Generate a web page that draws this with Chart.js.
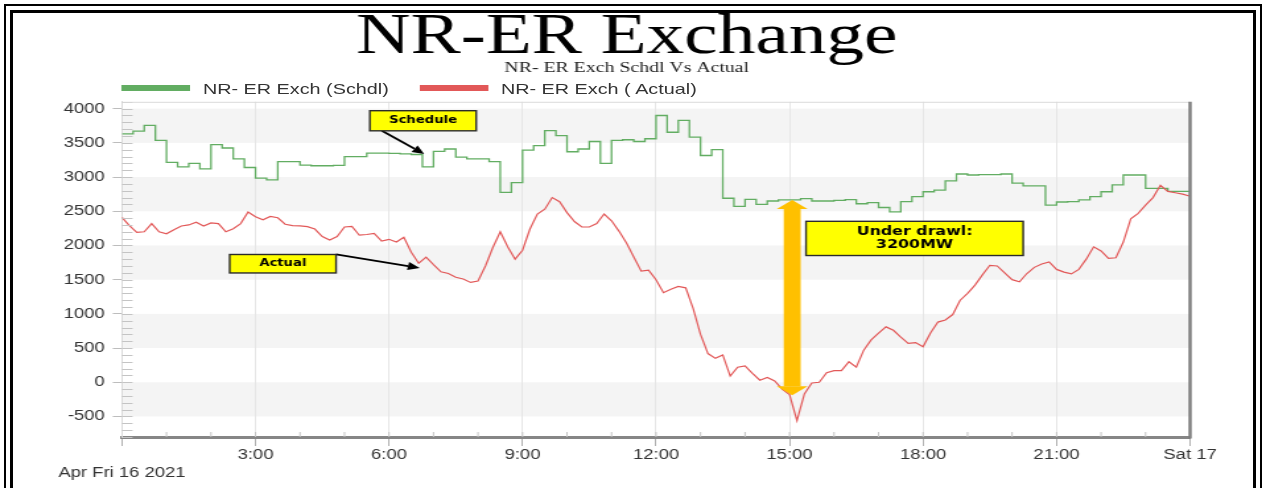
<!DOCTYPE html>
<html>
<head>
<meta charset="utf-8">
<title>NR-ER Exchange</title>
<script src="https://cdn.jsdelivr.net/npm/chart.js@4.4.0/dist/chart.umd.min.js"></script>
<style>
  html, body { margin: 0; padding: 0; background: #fff; }
  body { width: 1266px; height: 488px; overflow: hidden; position: relative; }
  .frame-outer { position: absolute; left: 4px; top: 4px; right: 4px; height: 600px; border: 2px solid #000; }
  .frame-inner { position: absolute; left: 10px; top: 10px; right: 10px; height: 600px; border: 3px solid #000; }
  #stage { position: absolute; left: 0; top: 0; width: 959px; height: 488px; transform: scaleX(1.3201); transform-origin: 0 0; }
  #legend { position: absolute; left: 92.4px; top: 79px; font-family: "Liberation Sans", Arial, sans-serif; font-size: 15px; color: #333; }
</style>
</head>
<body>
<div class="frame-outer"></div>
<div class="frame-inner"></div>
<div id="stage">
  <canvas id="chart" width="959" height="488"></canvas>
  <div id="legend"></div>
</div>
<script>
// 15-minute schedule blocks, 00:00 .. 24:00 (MW)
const SCHEDULE_MW = [
  3630, 3670, 3755, 3535, 3215, 3150, 3200, 3120, 3475, 3425, 3265, 3140,
  2985, 2960, 3225, 3225, 3175, 3165, 3165, 3170, 3300, 3300, 3350, 3350,
  3345, 3340, 3330, 3150, 3375, 3410, 3290, 3265, 3265, 3225, 2775, 2920,
  3395, 3460, 3680, 3605, 3370, 3410, 3520, 3200, 3535, 3545, 3520, 3560,
  3900, 3655, 3830, 3585, 3315, 3400, 2690, 2570, 2675, 2600, 2650, 2665,
  2665, 2685, 2650, 2650, 2660, 2670, 2610, 2625, 2555, 2490, 2640, 2715,
  2785, 2810, 2945, 3045, 3030, 3035, 3035, 3045, 2910, 2870, 2870, 2590,
  2635, 2640, 2665, 2715, 2785, 2885, 3030, 3030, 2835, 2835, 2790, 2790,
  2790
];

// actual drawal, 10-minute samples, 00:00 .. 24:00 (MW)
const ACTUAL_MW = [
  2410, 2290, 2190, 2200, 2320, 2200, 2170, 2230, 2285, 2300, 2340, 2285,
  2330, 2320, 2200, 2245, 2320, 2490, 2420, 2375, 2425, 2405, 2310, 2290,
  2285, 2275, 2240, 2130, 2080, 2130, 2270, 2280, 2150, 2160, 2175, 2065,
  2090, 2050, 2120, 1900, 1740, 1830, 1720, 1615, 1590, 1535, 1510, 1460,
  1480, 1700, 1970, 2200, 1980, 1800, 1930, 2240, 2460, 2530, 2700, 2640,
  2480, 2350, 2270, 2270, 2320, 2460, 2360, 2210, 2040, 1830, 1625, 1640,
  1500, 1310, 1360, 1400, 1380, 1080, 700, 420, 350, 400, 90, 220,
  240, 130, 30, 70, 20, -100, -180, -560, -170, -10, 0, 140,
  170, 170, 300, 220, 470, 620, 720, 810, 760, 660, 570, 580,
  520, 720, 880, 910, 990, 1200, 1300, 1420, 1570, 1710, 1700, 1600,
  1500, 1470, 1590, 1680, 1730, 1760, 1650, 1610, 1585, 1650, 1800, 1980,
  1920, 1810, 1820, 2050, 2390, 2470, 2590, 2700, 2880, 2790, 2770, 2750,
  2720
];

const X_TICK_LABELS = ['', '3:00', '6:00', '9:00', '12:00', '15:00', '18:00', '21:00', 'Sat 17'];
const Y_TICKS = [-500, 0, 500, 1000, 1500, 2000, 2500, 3000, 3500, 4000];
const DATE_LABEL = 'Apr Fri 16 2021';
const SERIES_LABELS = ['NR- ER Exch (Schdl)', 'NR- ER Exch ( Actual)'];
const COLOURS = ['#62ad62', '#e25858'];
const UNDER_DRAWL_MW = 3200;

const TICK_FONT = { family: '"Liberation Sans", Arial, sans-serif', size: 14 };

// callouts placed in data space (hours, MW)
const CALLOUTS = [
  { lines: ['Schedule'], x0: 5.57, y0: 3970, x1: 7.96, y1: 3676, size: 10,
    arrow: [5.84, 3676, 6.79, 3338] },
  { lines: ['Actual'], x0: 2.42, y0: 1868, x1: 4.81, y1: 1598, size: 10,
    arrow: [4.81, 1868, 6.69, 1672] },
  { lines: ['Under drawl:', UNDER_DRAWL_MW + 'MW'], x0: 15.37, y0: 2353, x1: 20.25, y1: 1853, size: 12 },
];
const GAP_ARROW = { x: 15.06, top: 2665, bottom: -191 };

function makeLegend(labels, id) {
  const legendContainer = document.getElementById(id);
  const listContainer = document.createElement('ul');
  listContainer.style.display = 'flex';
  listContainer.style.flexDirection = 'row';
  listContainer.style.margin = 0;
  listContainer.style.padding = 0;
  listContainer.style.listStyle = 'none';
  legendContainer.appendChild(listContainer);

  labels.forEach((label, i) => {
    const li = document.createElement('li');
    li.style.alignItems = 'center';
    li.style.display = 'flex';
    li.style.flexDirection = 'row';
    li.style.height = '18px';
    li.style.marginRight = '23.6px';

    const boxSpan = document.createElement('span');
    boxSpan.style.background = COLOURS[i];
    boxSpan.style.display = 'inline-block';
    boxSpan.style.height = '6px';
    boxSpan.style.width = '51.5px';
    boxSpan.style.marginRight = '9.8px';

    const textContainer = document.createElement('p');
    textContainer.style.margin = 0;
    textContainer.style.padding = 0;
    textContainer.style.whiteSpace = 'pre';
    textContainer.appendChild(document.createTextNode(label));

    li.appendChild(boxSpan);
    li.appendChild(textContainer);
    listContainer.appendChild(li);
  });
}

// grey bands between alternating 500 MW ticks
const bandsPlugin = {
  id: 'bands',
  beforeDraw(chart) {
    const { ctx, chartArea: a, scales: { y } } = chart;
    ctx.save();
    ctx.fillStyle = '#f4f4f4';
    y.ticks.forEach(t => {
      if (t.value % 1000 !== 0) return;
      const top = y.getPixelForValue(t.value);
      const bottom = y.getPixelForValue(t.value - 500);
      ctx.fillRect(a.left, top, a.right - a.left, bottom - top);
    });
    ctx.restore();
  }
};

// minor ticks, top edge and the heavy right edge of the plot
const framePlugin = {
  id: 'frame',
  afterDraw(chart) {
    const { ctx, chartArea: a, scales: { x, y } } = chart;
    ctx.save();
    ctx.lineWidth = 1;
    ctx.strokeStyle = '#c4c4c4';
    for (let v = Math.ceil(y.min / 100) * 100; v <= y.max; v += 100) {
      const py = Math.round(y.getPixelForValue(v)) + 0.5;
      ctx.beginPath();
      ctx.moveTo(a.left, py);
      ctx.lineTo(a.left + 8, py);
      ctx.stroke();
    }
    for (let h = 1; h < 24; h++) {
      const px = x.getPixelForValue(h);
      ctx.beginPath();
      ctx.moveTo(px, a.bottom - 5);
      ctx.lineTo(px, a.bottom);
      ctx.stroke();
    }
    ctx.strokeStyle = '#dadada';
    ctx.beginPath();
    ctx.moveTo(a.left, a.top + 0.5);
    ctx.lineTo(a.right, a.top + 0.5);
    ctx.stroke();
    ctx.strokeStyle = '#7f7f7f';
    ctx.lineWidth = 2.5;
    ctx.beginPath();
    ctx.moveTo(a.right, a.top);
    ctx.lineTo(a.right, a.bottom + 1.5);
    ctx.stroke();
    ctx.restore();
  }
};

function drawArrow(ctx, x0, y0, x1, y1) {
  const ang = Math.atan2(y1 - y0, x1 - x0);
  const len = 9, half = 4;
  const bx = x1 - len * Math.cos(ang), by = y1 - len * Math.sin(ang);
  ctx.beginPath();
  ctx.moveTo(x0, y0);
  ctx.lineTo(bx, by);
  ctx.stroke();
  ctx.beginPath();
  ctx.moveTo(x1, y1);
  ctx.lineTo(bx + half * Math.sin(ang), by - half * Math.cos(ang));
  ctx.lineTo(bx - half * Math.sin(ang), by + half * Math.cos(ang));
  ctx.closePath();
  ctx.fill();
}

const calloutPlugin = {
  id: 'callouts',
  afterDatasetsDraw(chart) {
    const { ctx, scales: { x, y } } = chart;
    ctx.save();

    // double-headed gap arrow
    const cx = x.getPixelForValue(GAP_ARROW.x);
    const top = y.getPixelForValue(GAP_ARROW.top);
    const bottom = y.getPixelForValue(GAP_ARROW.bottom);
    const head = 9, shaft = 6.4, wing = 11.7;
    ctx.fillStyle = '#ffc000';
    ctx.fillRect(cx - shaft, top + head, shaft * 2, bottom - top - head * 2);
    ctx.beginPath();
    ctx.moveTo(cx, top);
    ctx.lineTo(cx + wing, top + head);
    ctx.lineTo(cx - wing, top + head);
    ctx.closePath();
    ctx.fill();
    ctx.beginPath();
    ctx.moveTo(cx, bottom);
    ctx.lineTo(cx + wing, bottom - head);
    ctx.lineTo(cx - wing, bottom - head);
    ctx.closePath();
    ctx.fill();

    CALLOUTS.forEach(c => {
      const l = x.getPixelForValue(c.x0), r = x.getPixelForValue(c.x1);
      const t = y.getPixelForValue(c.y0), b = y.getPixelForValue(c.y1);
      if (c.arrow) {
        ctx.strokeStyle = '#000';
        ctx.fillStyle = '#000';
        ctx.lineWidth = 1.8;
        drawArrow(ctx,
          x.getPixelForValue(c.arrow[0]), y.getPixelForValue(c.arrow[1]),
          x.getPixelForValue(c.arrow[2]), y.getPixelForValue(c.arrow[3]));
      }
      ctx.fillStyle = '#ffff00';
      ctx.fillRect(l, t, r - l, b - t);
      ctx.strokeStyle = '#2b2b2b';
      ctx.lineWidth = 1.4;
      ctx.strokeRect(l, t, r - l, b - t);
      ctx.fillStyle = '#000';
      ctx.font = 'bold ' + c.size + 'px "DejaVu Sans", Verdana, sans-serif';
      ctx.textAlign = 'center';
      ctx.textBaseline = 'middle';
      const lh = c.size * 1.06;
      const mid = (t + b) / 2 - (c.lines.length - 1) * lh / 2;
      c.lines.forEach((line, i) => ctx.fillText(line, (l + r) / 2, mid + i * lh));
    });
    ctx.restore();
  }
};

function createExchangeChart() {
  const ctx = document.getElementById('chart');
  const schedule = SCHEDULE_MW.map((v, i) => ({ x: i * 0.25, y: v }));
  const actual = ACTUAL_MW.map((v, i) => ({ x: i / 6, y: v }));

  new Chart(ctx, {
    type: 'line',
    data: {
      datasets: [
        {
          label: SERIES_LABELS[0],
          data: schedule,
          borderColor: COLOURS[0],
          borderWidth: 1.3,
          stepped: 'before',
          pointRadius: 0,
          order: 1,
        },
        {
          label: SERIES_LABELS[1],
          data: actual,
          borderColor: COLOURS[1],
          borderWidth: 1.2,
          pointRadius: 0,
          tension: 0,
          order: 0,
        },
      ],
    },
    options: {
      responsive: false,
      animation: false,
      devicePixelRatio: 1,
      layout: { padding: { top: 17, left: 48, right: 57.5, bottom: 5.6 } },
      plugins: {
        legend: { display: false },
        tooltip: { enabled: false },
        title: {
          display: true,
          text: 'NR-ER Exchange',
          color: '#000',
          font: { family: '"Liberation Serif", "Times New Roman", serif', size: 57, weight: 'normal', lineHeight: 0.737 },
          padding: { top: 0, bottom: 0 },
        },
        subtitle: {
          display: true,
          text: 'NR- ER Exch Schdl Vs Actual',
          color: '#222',
          font: { family: '"Liberation Serif", "Times New Roman", serif', size: 15, lineHeight: 1.2 },
          padding: { top: 0, bottom: 24.8 },
        },
      },
      scales: {
        x: {
          type: 'linear',
          min: 0,
          max: 24,
          ticks: {
            stepSize: 3,
            autoSkip: false,
            maxRotation: 0,
            padding: 0,
            color: '#333',
            font: Object.assign({ lineHeight: 1.3 }, TICK_FONT),
            callback: (value) => {
              const i = Math.round(value / 3);
              return i === 0 ? [X_TICK_LABELS[0], DATE_LABEL] : X_TICK_LABELS[i];
            },
          },
          grid: {
            color: (c) => (c.tick && c.tick.value > 0 && c.tick.value < 24) ? '#e6e6e6' : 'rgba(0,0,0,0)',
            tickLength: 9,
            tickColor: '#b0b0b0',
          },
          border: { color: '#868686', width: 3 },
        },
        y: {
          min: -800,
          max: 4100,
          afterFit: (scale) => { scale.width = 44.4; },
          afterBuildTicks: (scale) => { scale.ticks = Y_TICKS.map(v => ({ value: v })); },
          ticks: {
            padding: 6,
            color: '#333',
            font: TICK_FONT,
            callback: (value) => String(value),
          },
          grid: {
            drawOnChartArea: false,
            tickLength: 7,
            tickColor: '#bdbdbd',
          },
          border: { color: '#dadada', width: 1 },
        },
      },
    },
    plugins: [bandsPlugin, framePlugin, calloutPlugin],
  });

  makeLegend(SERIES_LABELS, 'legend');
}

createExchangeChart();
</script>
</body>
</html>
